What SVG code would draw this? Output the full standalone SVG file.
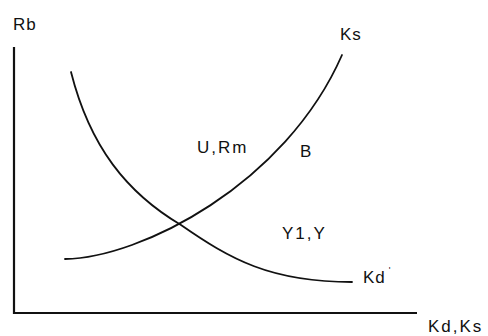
<svg xmlns="http://www.w3.org/2000/svg" width="488" height="336" viewBox="0 0 488 336">
<style>
text{font-family:"Liberation Sans",Arial,sans-serif;fill:#111;font-size:17px;letter-spacing:2px}
.ax{stroke:#111;stroke-width:2.2;fill:none}
.cv{stroke:#111;stroke-width:1.8;fill:none;stroke-linecap:round}
</style>
<rect width="488" height="336" fill="#fff"/>
<g id="axes">
<path class="ax" d="M14,47 V313 H417"/>
<text x="13" y="30" style="letter-spacing:1px">Rb</text>
<text x="428" y="332" style="letter-spacing:2px">Kd,Ks</text>
</g>
<g id="connectors">
<path id="Ks-curve" class="cv" d="M65,259 C140,258 285,185 342,55"/>
<path id="Kd-curve" class="cv" d="M71,72 C90,147 127,193 181,225 C230,259 270,282 352,282"/>
</g>
<g id="Ks"><text x="340" y="40" font-size="18" style="letter-spacing:1px">Ks</text></g>
<g id="Kd"><text x="363" y="283" font-size="18" style="letter-spacing:1px">Kd<tspan font-size="9" dx="3" dy="-10">'</tspan></text></g>
<g id="URm"><text x="197" y="153">U,Rm</text></g>
<g id="B"><text x="300" y="157">B</text></g>
<g id="Y1Y"><text x="282" y="239">Y1,Y</text></g>
</svg>
